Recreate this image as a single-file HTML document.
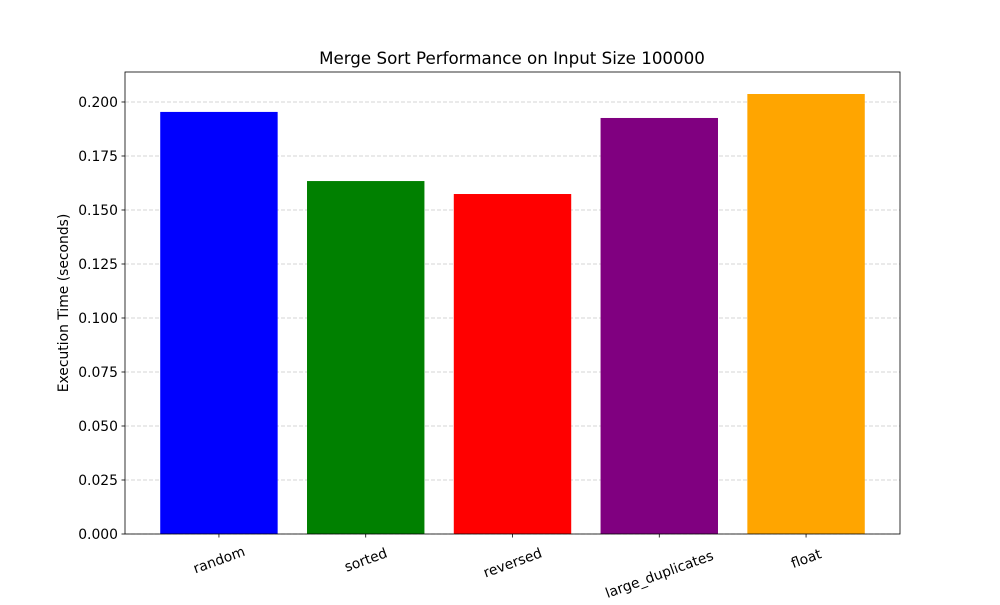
<!DOCTYPE html>
<html><head><meta charset="utf-8"><style>
body{margin:0;background:#fff;}
svg text{font-family:"DejaVu Sans","Liberation Sans",sans-serif;}
</style></head><body>
<svg id="chart" width="1000" height="600">
<rect width="1000" height="600" fill="#fff"/>
<text x="512" y="64" font-size="16.7" text-anchor="middle">Merge Sort Performance on Input Size 100000</text>
<text transform="translate(68,303) rotate(-90)" font-size="13.9" text-anchor="middle">Execution Time (seconds)</text>
<g id="grid"></g><g id="bars"></g><g id="axes"></g>
</svg>
<script>
const categories=["random","sorted","reversed","large_duplicates","float"];
const values=[0.1954,0.1634,0.1574,0.1926,0.2037];
const colors=["blue","green","red","purple","orange"];
const yTicks=[0,0.025,0.05,0.075,0.1,0.125,0.15,0.175,0.2];
const yTickLabels=["0.000","0.025","0.050","0.075","0.100","0.125","0.150","0.175","0.200"];
const L=125,R=900,T=72,B=534;
const ymax=Math.max(...values)*1.05;
const xmin=-0.64,xmax=categories.length-1+0.64;
const y=v=>B-(v/ymax)*(B-T);
const x=i=>L+(i-xmin)/(xmax-xmin)*(R-L);
const ns="http://www.w3.org/2000/svg";
function mk(t,a,p){const e=document.createElementNS(ns,t);for(const k in a)e.setAttribute(k,a[k]);p.appendChild(e);return e;}
const g=document.getElementById('grid'),bg=document.getElementById('bars'),ag=document.getElementById('axes');
yTicks.forEach((t,i)=>{
 const yy=y(t);
 const gl=mk('line',{x1:L,x2:R,y1:yy,y2:yy,stroke:'#b0b0b0','stroke-dasharray':'4,2','stroke-width':0.8,opacity:0.7},g);
 
 
 const tk=mk('line',{x1:L-3.5,x2:L,y1:yy,y2:yy,stroke:'#000','stroke-width':0.8},ag);
 
 
 const tl=mk('text',{x:L-7,y:yy+5,'font-size':13.9,'text-anchor':'end'},ag);
 tl.textContent=yTickLabels[i];
 
 
});
const bw=0.8*(R-L)/(xmax-xmin);
categories.forEach((c,i)=>{
 const cx=x(i);
 const r=mk('rect',{x:cx-bw/2,y:y(values[i]),width:bw,height:B-y(values[i]),fill:colors[i]},bg);
 
 
 const tk=mk('line',{x1:cx,x2:cx,y1:B,y2:B+3.5,stroke:'#000','stroke-width':0.8},ag);
 
 
 const n=c.length, half=n*4.2*Math.sin(20*Math.PI/180);
 const cyc=B+14+half+3;
 const tl=mk('text',{x:cx,y:cyc+5,'font-size':13.9,'text-anchor':'middle',transform:`rotate(-20 ${cx} ${cyc})`},ag);
 tl.textContent=c;
 
 
});
const fr=mk('rect',{x:L,y:T,width:R-L,height:B-T,fill:'none',stroke:'#000','stroke-width':0.8},ag);


</script>
</body></html>
